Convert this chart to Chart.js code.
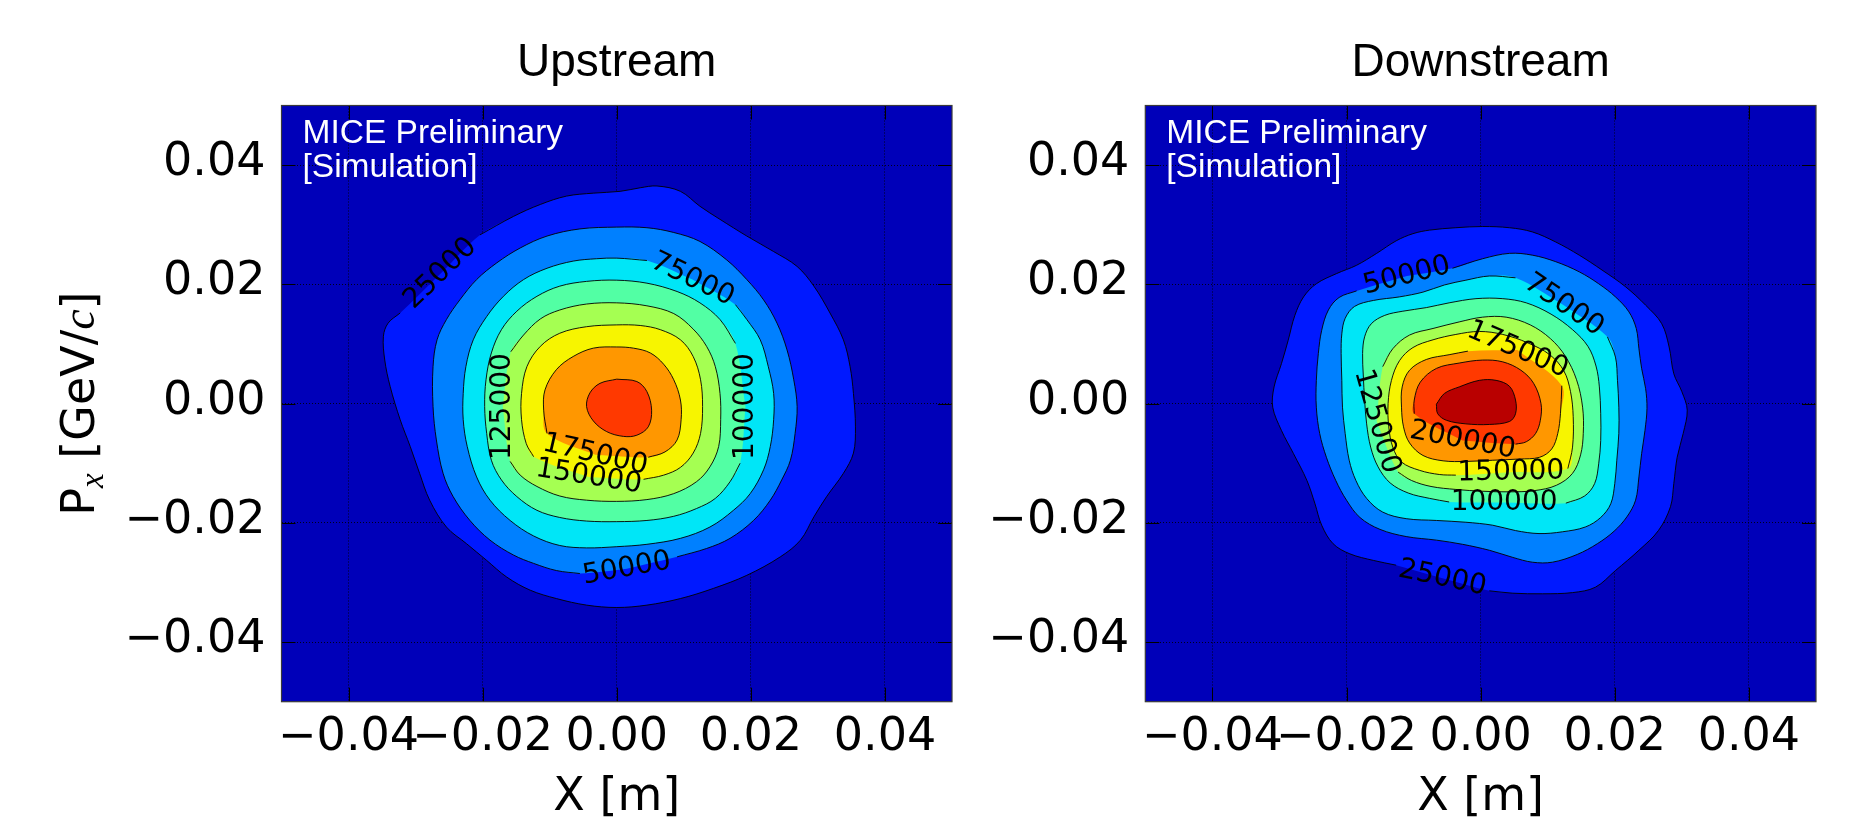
<!DOCTYPE html>
<html>
<head>
<meta charset="utf-8">
<script src="https://cdn.jsdelivr.net/npm/chart.js@4.4.0/dist/chart.umd.min.js"></script>
<style>
  html, body { margin: 0; padding: 0; background: #fff; overflow: hidden; }
  body { width: 1857px; height: 819px; position: relative; }
  .panel { position: absolute; top: 0; height: 860px; }
</style>
</head>
<body>
<div class="panel" style="left:0;width:960px"><canvas id="upstream" width="960" height="860"></canvas></div>
<div class="panel" style="left:960px;width:897px"><canvas id="downstream" width="897" height="860"></canvas></div>
<script>
// tick values, same on both axes of both panels
const axisTicks = [-0.04, -0.02, 0.00, 0.02, 0.04];

// contour levels
const upLevels = [25000, 50000, 75000, 100000, 125000, 150000, 175000, 200000];
const downLevels = [25000, 50000, 75000, 100000, 125000, 150000, 175000, 200000, 225000];

// label rotation for each level, degrees (null = no label on that contour)
const upLabelAngles = [-44, -10, 26, -90, -90, 9, 13, null];
const downLabelAngles = [12, -14, 34, 0, 74, -1, 23, 11, null];

// contour outlines as [X (m), Px (GeV/c)].
// for labelled contours the first point is where the label sits
const upContours = [
  [[-0.0263, 0.0218], [-0.0204, 0.0283], [-0.0154, 0.0314], [-0.0114, 0.0334], [-0.0075, 0.0348], [-0.0035, 0.0353], [0.0005, 0.0356], [0.0035, 0.0362], [0.0060, 0.0365], [0.0095, 0.0356], [0.0124, 0.0331], [0.0154, 0.0309], [0.0194, 0.0281], [0.0234, 0.0255], [0.0269, 0.0230], [0.0294, 0.0197], [0.0318, 0.0152], [0.0338, 0.0107], [0.0348, 0.0062], [0.0353, 0.0017], [0.0356, -0.0039], [0.0353, -0.0083], [0.0338, -0.0117], [0.0313, -0.0156], [0.0294, -0.0190], [0.0274, -0.0229], [0.0244, -0.0257], [0.0194, -0.0288], [0.0144, -0.0310], [0.0095, -0.0327], [0.0045, -0.0338], [0.0000, -0.0342], [-0.0045, -0.0338], [-0.0090, -0.0327], [-0.0129, -0.0313], [-0.0164, -0.0291], [-0.0194, -0.0263], [-0.0224, -0.0235], [-0.0254, -0.0207], [-0.0279, -0.0162], [-0.0294, -0.0117], [-0.0308, -0.0072], [-0.0323, -0.0027], [-0.0338, 0.0029], [-0.0346, 0.0073], [-0.0348, 0.0113], [-0.0341, 0.0135], [-0.0323, 0.0152]],
  [[0.0015, -0.0277], [-0.0055, -0.0285], [-0.0090, -0.0280], [-0.0124, -0.0268], [-0.0154, -0.0254], [-0.0189, -0.0229], [-0.0219, -0.0196], [-0.0244, -0.0156], [-0.0259, -0.0117], [-0.0269, -0.0061], [-0.0274, -0.0005], [-0.0274, 0.0062], [-0.0268, 0.0107], [-0.0254, 0.0141], [-0.0234, 0.0174], [-0.0209, 0.0208], [-0.0179, 0.0236], [-0.0144, 0.0261], [-0.0104, 0.0281], [-0.0055, 0.0293], [0.0000, 0.0296], [0.0045, 0.0295], [0.0085, 0.0287], [0.0124, 0.0272], [0.0164, 0.0241], [0.0194, 0.0208], [0.0219, 0.0174], [0.0239, 0.0135], [0.0254, 0.0090], [0.0264, 0.0040], [0.0269, -0.0005], [0.0266, -0.0050], [0.0259, -0.0095], [0.0246, -0.0128], [0.0229, -0.0162], [0.0204, -0.0196], [0.0169, -0.0226], [0.0134, -0.0243], [0.0090, -0.0257]],
  [[0.0113, 0.0208], [0.0177, 0.0166], [0.0194, 0.0141], [0.0214, 0.0107], [0.0226, 0.0062], [0.0234, 0.0017], [0.0234, -0.0027], [0.0229, -0.0072], [0.0219, -0.0111], [0.0199, -0.0151], [0.0174, -0.0179], [0.0139, -0.0207], [0.0095, -0.0226], [0.0045, -0.0236], [0.0000, -0.0240], [-0.0045, -0.0242], [-0.0085, -0.0238], [-0.0124, -0.0222], [-0.0159, -0.0196], [-0.0189, -0.0162], [-0.0209, -0.0123], [-0.0223, -0.0072], [-0.0229, -0.0027], [-0.0229, 0.0017], [-0.0225, 0.0062], [-0.0214, 0.0107], [-0.0194, 0.0146], [-0.0169, 0.0180], [-0.0139, 0.0208], [-0.0104, 0.0227], [-0.0065, 0.0239], [-0.0030, 0.0243], [0.0000, 0.0244], [0.0045, 0.0240]],
  [[0.0192, -0.0005], [0.0184, -0.0100], [0.0169, -0.0131], [0.0147, -0.0159], [0.0119, -0.0176], [0.0085, -0.0189], [0.0045, -0.0196], [0.0000, -0.0198], [-0.0045, -0.0197], [-0.0085, -0.0191], [-0.0119, -0.0179], [-0.0149, -0.0156], [-0.0172, -0.0128], [-0.0187, -0.0095], [-0.0194, -0.0050], [-0.0197, -0.0005], [-0.0195, 0.0040], [-0.0187, 0.0085], [-0.0172, 0.0124], [-0.0149, 0.0155], [-0.0119, 0.0180], [-0.0085, 0.0197], [-0.0045, 0.0205], [0.0000, 0.0207], [0.0045, 0.0202], [0.0090, 0.0188], [0.0124, 0.0169], [0.0154, 0.0141], [0.0177, 0.0101]],
  [[-0.0170, -0.0005], [-0.0158, 0.0087], [-0.0139, 0.0115], [-0.0114, 0.0142], [-0.0085, 0.0157], [-0.0045, 0.0167], [0.0000, 0.0169], [0.0045, 0.0164], [0.0085, 0.0151], [0.0114, 0.0125], [0.0134, 0.0096], [0.0147, 0.0062], [0.0154, 0.0017], [0.0155, -0.0027], [0.0152, -0.0072], [0.0139, -0.0106], [0.0119, -0.0131], [0.0085, -0.0151], [0.0045, -0.0161], [0.0000, -0.0164], [-0.0045, -0.0162], [-0.0085, -0.0155], [-0.0119, -0.0139], [-0.0144, -0.0120], [-0.0159, -0.0097]],
  [[-0.0042, -0.0123], [-0.0124, -0.0089], [-0.0135, -0.0067], [-0.0142, -0.0027], [-0.0142, 0.0017], [-0.0134, 0.0062], [-0.0114, 0.0096], [-0.0085, 0.0118], [-0.0045, 0.0129], [0.0000, 0.0132], [0.0035, 0.0131], [0.0065, 0.0124], [0.0095, 0.0107], [0.0114, 0.0079], [0.0125, 0.0040], [0.0128, -0.0005], [0.0125, -0.0050], [0.0114, -0.0083], [0.0095, -0.0107], [0.0070, -0.0120], [0.0040, -0.0127]],
  [[-0.0032, -0.0086], [-0.0104, -0.0050], [-0.0109, -0.0011], [-0.0107, 0.0023], [-0.0090, 0.0057], [-0.0065, 0.0079], [-0.0035, 0.0093], [0.0000, 0.0095], [0.0025, 0.0093], [0.0050, 0.0085], [0.0070, 0.0066], [0.0085, 0.0040], [0.0095, 0.0006], [0.0096, -0.0027], [0.0090, -0.0061], [0.0072, -0.0081], [0.0047, -0.0090]],
  [[0.0000, 0.0041], [0.0030, 0.0037], [0.0045, 0.0020], [0.0052, -0.0011], [0.0047, -0.0039], [0.0030, -0.0053], [0.0010, -0.0055], [-0.0015, -0.0047], [-0.0035, -0.0029], [-0.0045, -0.0005], [-0.0040, 0.0018], [-0.0025, 0.0034]]
];

const downContours = [
  [[-0.0057, -0.0293], [-0.0126, -0.0271], [-0.0160, -0.0263], [-0.0195, -0.0252], [-0.0220, -0.0235], [-0.0237, -0.0204], [-0.0247, -0.0168], [-0.0259, -0.0129], [-0.0279, -0.0084], [-0.0297, -0.0045], [-0.0310, -0.0006], [-0.0308, 0.0028], [-0.0297, 0.0067], [-0.0287, 0.0106], [-0.0277, 0.0148], [-0.0264, 0.0179], [-0.0245, 0.0201], [-0.0215, 0.0218], [-0.0185, 0.0232], [-0.0155, 0.0252], [-0.0126, 0.0273], [-0.0101, 0.0285], [-0.0076, 0.0291], [-0.0037, 0.0295], [0.0003, 0.0297], [0.0043, 0.0295], [0.0077, 0.0288], [0.0112, 0.0271], [0.0147, 0.0249], [0.0181, 0.0224], [0.0216, 0.0196], [0.0246, 0.0165], [0.0270, 0.0134], [0.0281, 0.0095], [0.0288, 0.0050], [0.0300, 0.0020], [0.0308, -0.0011], [0.0302, -0.0050], [0.0293, -0.0090], [0.0288, -0.0134], [0.0283, -0.0173], [0.0265, -0.0213], [0.0236, -0.0246], [0.0201, -0.0280], [0.0171, -0.0308], [0.0137, -0.0317], [0.0092, -0.0319], [0.0048, -0.0318], [0.0013, -0.0314]],
  [[-0.0110, 0.0214], [-0.0042, 0.0227], [0.0003, 0.0243], [0.0043, 0.0252], [0.0077, 0.0249], [0.0112, 0.0238], [0.0147, 0.0221], [0.0176, 0.0201], [0.0201, 0.0179], [0.0221, 0.0154], [0.0232, 0.0126], [0.0236, 0.0092], [0.0240, 0.0059], [0.0246, 0.0025], [0.0248, -0.0008], [0.0245, -0.0045], [0.0240, -0.0084], [0.0236, -0.0123], [0.0231, -0.0162], [0.0218, -0.0190], [0.0199, -0.0214], [0.0174, -0.0235], [0.0144, -0.0253], [0.0107, -0.0266], [0.0077, -0.0266], [0.0048, -0.0258], [0.0013, -0.0246], [-0.0027, -0.0236], [-0.0066, -0.0229], [-0.0111, -0.0223], [-0.0150, -0.0211], [-0.0180, -0.0191], [-0.0200, -0.0162], [-0.0216, -0.0129], [-0.0230, -0.0090], [-0.0240, -0.0050], [-0.0245, -0.0006], [-0.0245, 0.0039], [-0.0242, 0.0084], [-0.0237, 0.0123], [-0.0227, 0.0157], [-0.0211, 0.0178], [-0.0185, 0.0189]],
  [[0.0124, 0.0165], [0.0189, 0.0112], [0.0201, 0.0078], [0.0204, 0.0039], [0.0206, -0.0006], [0.0206, -0.0050], [0.0203, -0.0095], [0.0200, -0.0134], [0.0194, -0.0168], [0.0179, -0.0191], [0.0156, -0.0207], [0.0122, -0.0215], [0.0087, -0.0218], [0.0052, -0.0213], [0.0018, -0.0204], [-0.0022, -0.0199], [-0.0066, -0.0196], [-0.0111, -0.0193], [-0.0146, -0.0182], [-0.0170, -0.0159], [-0.0186, -0.0129], [-0.0196, -0.0095], [-0.0202, -0.0050], [-0.0206, -0.0006], [-0.0207, 0.0039], [-0.0208, 0.0084], [-0.0207, 0.0117], [-0.0202, 0.0143], [-0.0188, 0.0163], [-0.0160, 0.0173], [-0.0121, 0.0179], [-0.0086, 0.0187], [-0.0054, 0.0199], [-0.0022, 0.0207], [0.0013, 0.0214], [0.0052, 0.0211]],
  [[0.0035, -0.0166], [-0.0047, -0.0165], [-0.0076, -0.0159], [-0.0108, -0.0150], [-0.0135, -0.0133], [-0.0153, -0.0106], [-0.0164, -0.0073], [-0.0170, -0.0034], [-0.0173, 0.0006], [-0.0175, 0.0048], [-0.0176, 0.0084], [-0.0173, 0.0112], [-0.0163, 0.0134], [-0.0143, 0.0148], [-0.0116, 0.0155], [-0.0081, 0.0161], [-0.0047, 0.0169], [-0.0007, 0.0176], [0.0033, 0.0176], [0.0068, 0.0169], [0.0105, 0.0150], [0.0137, 0.0124], [0.0160, 0.0096], [0.0172, 0.0063], [0.0177, 0.0028], [0.0179, -0.0017], [0.0179, -0.0062], [0.0176, -0.0101], [0.0170, -0.0134], [0.0155, -0.0155], [0.0127, -0.0167]],
  [[-0.0155, -0.0030], [-0.0146, 0.0062], [-0.0131, 0.0092], [-0.0106, 0.0115], [-0.0071, 0.0126], [-0.0032, 0.0137], [0.0003, 0.0145], [0.0038, 0.0145], [0.0074, 0.0132], [0.0104, 0.0109], [0.0126, 0.0080], [0.0143, 0.0040], [0.0152, -0.0006], [0.0153, -0.0050], [0.0149, -0.0086], [0.0137, -0.0117], [0.0113, -0.0137], [0.0080, -0.0146], [0.0043, -0.0148], [0.0003, -0.0147], [-0.0037, -0.0144], [-0.0074, -0.0139], [-0.0103, -0.0129], [-0.0123, -0.0115]],
  [[0.0045, -0.0115], [0.0130, -0.0109], [0.0137, -0.0073], [0.0138, -0.0022], [0.0134, 0.0020], [0.0124, 0.0055], [0.0103, 0.0082], [0.0070, 0.0102], [0.0033, 0.0116], [-0.0002, 0.0121], [-0.0037, 0.0116], [-0.0071, 0.0107], [-0.0101, 0.0094], [-0.0121, 0.0072], [-0.0133, 0.0039], [-0.0138, 0.0000], [-0.0137, -0.0039], [-0.0131, -0.0073], [-0.0118, -0.0098], [-0.0091, -0.0112], [-0.0061, -0.0119], [-0.0037, -0.0120]],
  [[0.0055, 0.0090], [0.0121, 0.0030], [0.0119, -0.0017], [0.0115, -0.0050], [0.0106, -0.0076], [0.0088, -0.0090], [0.0057, -0.0093], [0.0018, -0.0095], [-0.0022, -0.0097], [-0.0056, -0.0096], [-0.0086, -0.0087], [-0.0106, -0.0066], [-0.0115, -0.0039], [-0.0118, -0.0006], [-0.0117, 0.0028], [-0.0106, 0.0056], [-0.0081, 0.0074], [-0.0047, 0.0082], [-0.0019, 0.0088]],
  [[-0.0027, -0.0062], [-0.0099, -0.0017], [-0.0099, 0.0006], [-0.0090, 0.0036], [-0.0066, 0.0059], [-0.0032, 0.0068], [0.0003, 0.0073], [0.0033, 0.0070], [0.0060, 0.0056], [0.0079, 0.0034], [0.0090, 0.0000], [0.0089, -0.0028], [0.0082, -0.0050], [0.0068, -0.0064], [0.0052, -0.0068]],
  [[-0.0066, -0.0001], [-0.0054, 0.0017], [-0.0032, 0.0028], [-0.0002, 0.0039], [0.0023, 0.0039], [0.0043, 0.0029], [0.0052, 0.0006], [0.0052, -0.0017], [0.0043, -0.0030], [0.0013, -0.0035], [-0.0022, -0.0034], [-0.0051, -0.0028], [-0.0064, -0.0017]]
];

// jet colours for the bands 0-25k, 25k-50k, ... 225k-250k
const jetBands = ['#0000b9', '#0019ff', '#0080ff', '#00e6f7', '#52ffa4', '#a5ff52', '#f7f500', '#ff9700', '#ff3900', '#b90000'];

const tickFormat = v => (v < 0 ? '\u2212' : '') + Math.abs(v).toFixed(2);

function contourDatasets(levels, contours, angles) {
  const toPts = pts => pts.map(p => ({ x: p[0], y: p[1] }));
  const sets = [];
  contours.forEach((pts, i) => {
    const ring = toPts(pts.concat([pts[0]]));
    // filled band, outer ones drawn first
    sets.push({
      label: 'band ' + levels[i],
      data: ring,
      showLine: true,
      fill: 'shape',
      backgroundColor: jetBands[i + 1],
      borderColor: 'rgba(0,0,0,0)',
      borderWidth: 0,
      pointRadius: 0,
      tension: 0.35,
      order: 100 - i
    });
    // contour line, broken where the label sits
    sets.push({
      label: 'line ' + levels[i],
      data: angles[i] === null ? ring : toPts(pts.slice(1)),
      showLine: true,
      fill: false,
      borderColor: '#000',
      borderWidth: 0.9,
      pointRadius: 0,
      tension: 0.35,
      order: 1
    });
  });
  return sets;
}

function panelDecor(levels, contours, angles, drawYTitle) {
  return {
    id: 'panelDecor',
    beforeDraw(chart) {
      const { ctx, chartArea: a } = chart;
      ctx.save();
      ctx.fillStyle = jetBands[0];
      ctx.fillRect(a.left, a.top, a.right - a.left, a.bottom - a.top);
      ctx.restore();
    },
    afterDatasetsDraw(chart) {
      const { ctx, chartArea: a, scales: { x, y } } = chart;
      ctx.save();
      // inline contour labels
      ctx.font = '28px "DejaVu Sans"';
      ctx.fillStyle = '#000';
      ctx.textAlign = 'center';
      ctx.textBaseline = 'middle';
      contours.forEach((pts, i) => {
        if (angles[i] === null) return;
        ctx.save();
        ctx.translate(x.getPixelForValue(pts[0][0]), y.getPixelForValue(pts[0][1]));
        ctx.rotate(angles[i] * Math.PI / 180);
        ctx.fillText(String(levels[i]), 0, 0);
        ctx.restore();
      });
      // watermark
      ctx.font = '33.5px "Liberation Sans"';
      ctx.fillStyle = '#fff';
      ctx.textAlign = 'left';
      ctx.textBaseline = 'alphabetic';
      ctx.fillText('MICE Preliminary', a.left + 21, a.top + 37.5);
      ctx.fillText('[Simulation]', a.left + 21, a.top + 71);
      ctx.restore();
    },
    afterDraw(chart) {
      const { ctx, chartArea: a, scales: { x, y } } = chart;
      ctx.save();
      // inward ticks on all four sides
      ctx.strokeStyle = '#000';
      ctx.lineWidth = 1;
      ctx.beginPath();
      axisTicks.forEach(v => {
        const px = Math.round(x.getPixelForValue(v)) + 0.5;
        ctx.moveTo(px, a.bottom); ctx.lineTo(px, a.bottom - 14);
        ctx.moveTo(px, a.top); ctx.lineTo(px, a.top + 14);
        const py = Math.round(y.getPixelForValue(v)) + 0.5;
        ctx.moveTo(a.left, py); ctx.lineTo(a.left + 14, py);
        ctx.moveTo(a.right, py); ctx.lineTo(a.right - 14, py);
      });
      ctx.stroke();
      ctx.strokeStyle = '#3a3a3a';
      ctx.lineWidth = 1.2;
      ctx.strokeRect(a.left, a.top, a.right - a.left, a.bottom - a.top);

      if (drawYTitle) {
        // P_x [GeV/c] with mathtext style italics
        const parts = [
          { t: 'P', f: '46px "DejaVu Sans"', dy: 0 },
          { t: 'x', f: 'italic 33px "Liberation Serif"', dy: 9 },
          { t: ' [GeV/', f: '46px "DejaVu Sans"', dy: 0 },
          { t: 'c', f: 'italic 46px "Liberation Serif"', dy: 0 },
          { t: ']', f: '46px "DejaVu Sans"', dy: 0 }
        ];
        let total = 0;
        parts.forEach(p => { ctx.font = p.f; p.w = ctx.measureText(p.t).width; total += p.w; });
        ctx.translate(94, (a.top + a.bottom) / 2);
        ctx.rotate(-Math.PI / 2);
        ctx.fillStyle = '#000';
        ctx.textAlign = 'left';
        ctx.textBaseline = 'alphabetic';
        let cx = -total / 2;
        parts.forEach(p => { ctx.font = p.f; ctx.fillText(p.t, cx, p.dy); cx += p.w; });
      }
      ctx.restore();
    }
  };
}

function panelOptions(title, yWidth, padRight) {
  const tickFont = { family: 'DejaVu Sans', size: 46, lineHeight: 1 };
  return {
    responsive: false,
    animation: false,
    events: [],
    layout: { padding: { left: 0, right: padRight, top: 0, bottom: 0 } },
    plugins: {
      legend: { display: false },
      tooltip: { enabled: false },
      title: {
        display: true,
        text: title,
        fullSize: false,
        color: '#000',
        font: { family: 'Liberation Sans', size: 46, weight: 'normal', lineHeight: 1 },
        padding: { top: 40, bottom: 19.5 }
      }
    },
    scales: {
      x: {
        type: 'linear',
        position: 'bottom',
        min: -0.05,
        max: 0.05,
        z: 1,
        afterBuildTicks: s => { s.ticks = axisTicks.map(v => ({ value: v })); },
        afterFit: s => { s.height = 158.3; },
        grid: { color: 'rgba(0,0,0,0.85)', lineWidth: 1, drawTicks: false },
        border: { display: false, dash: [1, 2] },
        ticks: { color: '#000', font: tickFont, padding: 13.5, maxRotation: 0, autoSkip: false, callback: tickFormat },
        title: {
          display: true,
          text: 'X [m]',
          color: '#000',
          font: { family: 'DejaVu Sans', size: 46, lineHeight: 1 },
          padding: { top: 0, bottom: 39.4 }
        }
      },
      y: {
        type: 'linear',
        position: 'left',
        min: -0.05,
        max: 0.05,
        z: 1,
        afterBuildTicks: s => { s.ticks = axisTicks.map(v => ({ value: v })); },
        afterFit: s => { s.width = yWidth; },
        grid: { color: 'rgba(0,0,0,0.85)', lineWidth: 1, drawTicks: false },
        border: { display: false, dash: [1, 2] },
        ticks: { color: '#000', font: tickFont, padding: 16, labelOffset: -2, autoSkip: false, callback: tickFormat }
      }
    }
  };
}

new Chart(document.getElementById('upstream'), {
  type: 'scatter',
  data: { datasets: contourDatasets(upLevels, upContours, upLabelAngles) },
  options: panelOptions('Upstream', 281.5, 8),
  plugins: [panelDecor(upLevels, upContours, upLabelAngles, true)]
});

new Chart(document.getElementById('downstream'), {
  type: 'scatter',
  data: { datasets: contourDatasets(downLevels, downContours, downLabelAngles) },
  options: panelOptions('Downstream', 185.3, 41),
  plugins: [panelDecor(downLevels, downContours, downLabelAngles, false)]
});
</script>
</body>
</html>
